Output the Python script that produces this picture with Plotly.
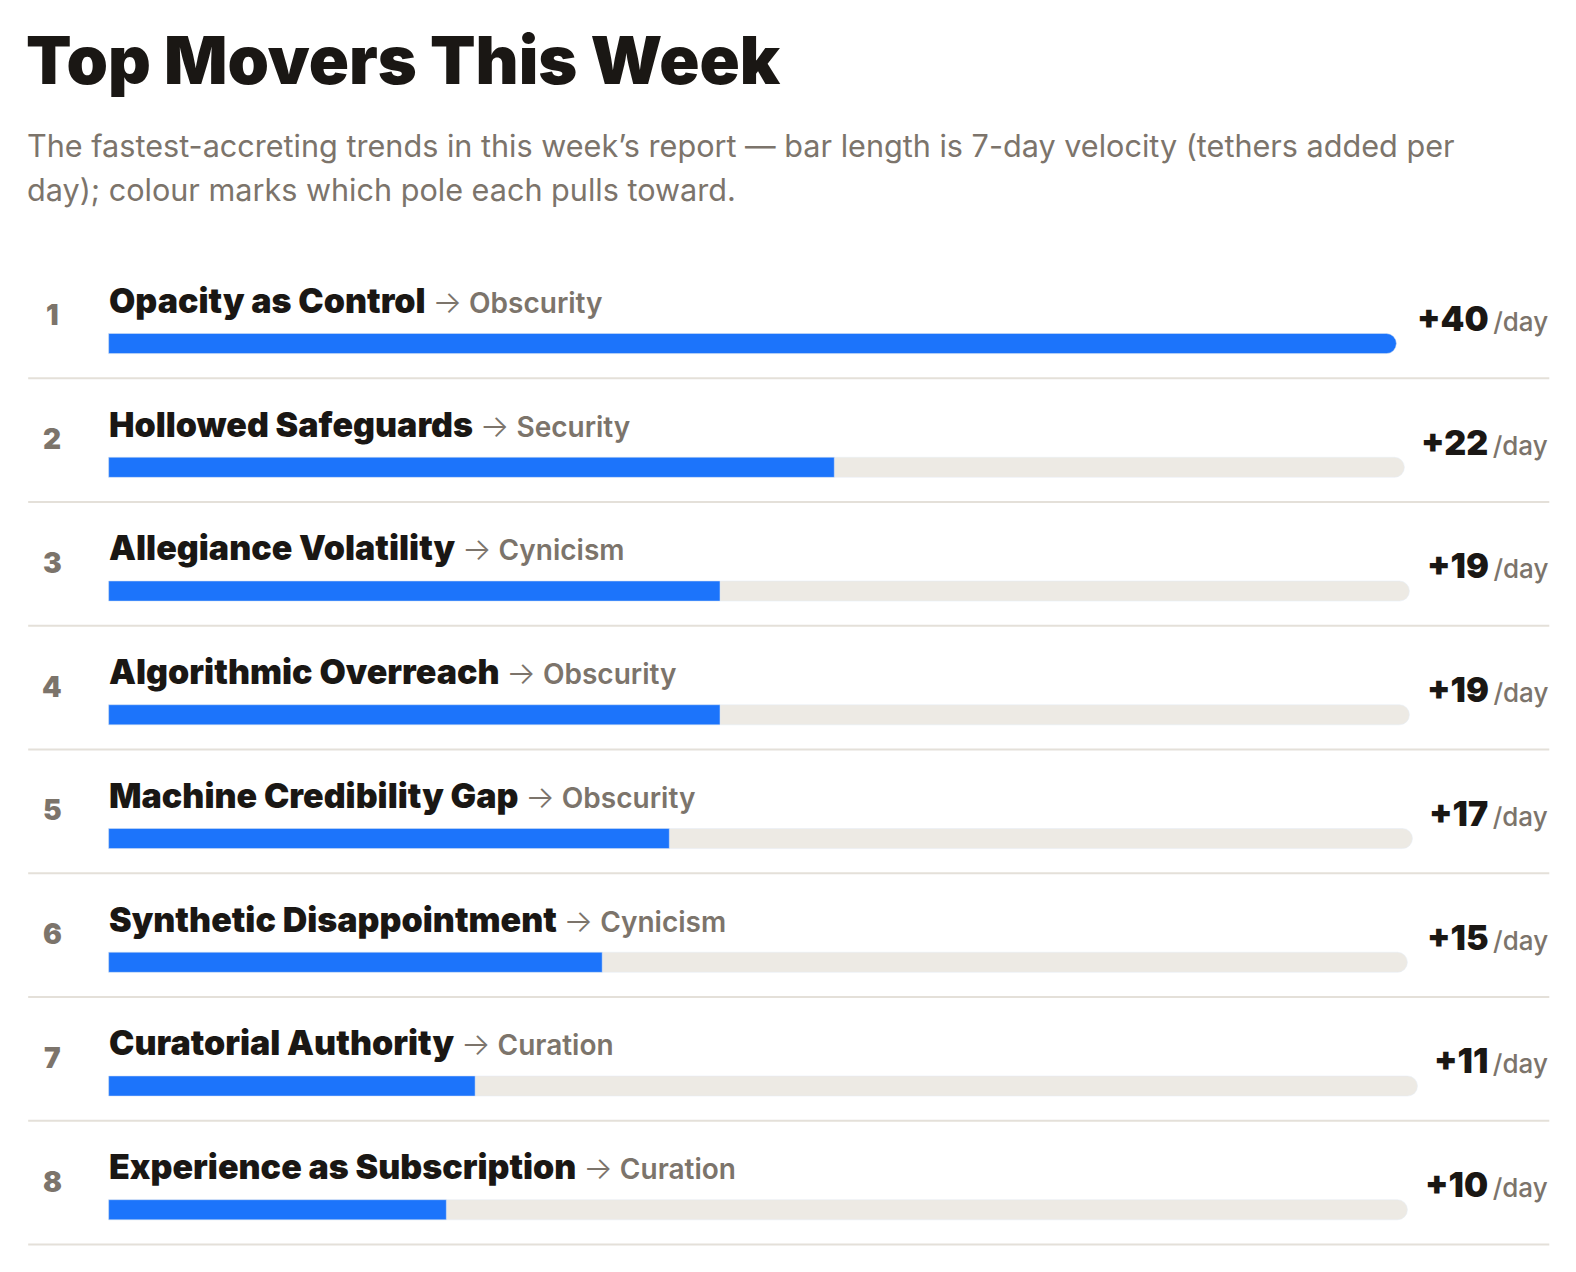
import plotly.graph_objects as go

# data (velocity = tethers added per day, 7-day window)
ranks = [1, 2, 3, 4, 5, 6, 7, 8]
trends = ["Opacity as Control", "Hollowed Safeguards", "Allegiance Volatility",
          "Algorithmic Overreach", "Machine Credibility Gap", "Synthetic Disappointment",
          "Curatorial Authority", "Experience as Subscription"]
poles = ["Obscurity", "Security", "Cynicism", "Obscurity", "Obscurity", "Cynicism",
         "Curation", "Curation"]
velocity = [40.0, 22.4, 18.8, 18.8, 17.2, 15.2, 11.2, 10.4]

# the page gets an 8px body margin and comes out ~0.6% smaller in the photo
S, OFF = 0.994, 8
W, H = 1560, 1256
BLUE = "#1c74fb"
TRACK = "#edeae4"
RULE = "#e4e0d9"
INK = "#1a1714"
GREY = "#7c746b"
FONT = "Inter"


def fx(v):
    return v / S - OFF


# rough glyph widths of the value label, the track shrinks to make room for it
GLYPH_W = {"+": 21, "0": 23, "1": 13, "2": 19.5, "4": 24, "5": 23, "7": 18, "9": 21}
labels = [f"+{round(v)}" for v in velocity]
track_end = [1456 - sum(GLYPH_W[c] for c in lab) for lab in labels]
track_len = [e - 108 for e in track_end]
ratio = [t / track_len[0] for t in track_len]

vmax = max(velocity)
ppu = (fx(track_end[0]) - fx(108)) / vmax
x_range = [-fx(108) / ppu, (W - fx(108)) / ppu]
row_px = 123 / S
first_bar = fx(341.5)
y_range = [1 + (H - first_bar) / row_px, 1 - first_bar / row_px]
bar_w = 20 / 123

fig = go.Figure()
fig.add_trace(go.Bar(
    y=ranks, x=[vmax * r for r in ratio], orientation="h", width=bar_w,
    marker=dict(color=TRACK, cornerradius=10), hoverinfo="skip", showlegend=False))
fig.add_trace(go.Bar(
    y=ranks, x=[v * r for v, r in zip(velocity, ratio)], orientation="h", width=bar_w,
    marker=dict(color=BLUE, cornerradius=10), hoverinfo="skip", showlegend=False))

ann = []
for r, t, p, lab in zip(ranks, trends, poles, labels):
    ann.append(dict(
        x=fx(106) / W, y=r - 43 / 123, xref="paper", yref="y", xanchor="left", yanchor="middle",
        text=(f"{t} <span style=\"color:{GREY};font-size:31px;font-weight:300\">→</span>"
              f"<span style=\"color:{GREY};font-size:28px;font-weight:600\"> {p}</span>"),
        showarrow=False, font=dict(family=FONT, size=34, color=INK, weight=900)))
    ann.append(dict(
        x=fx(52) / W, y=r - 28 / 123, xref="paper", yref="y", xanchor="center", yanchor="middle",
        text=str(r), showarrow=False, font=dict(family=FONT, size=28, color=GREY, weight=900)))
    ann.append(dict(
        x=fx(1541) / W, y=r - 25 / 123, xref="paper", yref="y", xanchor="right", yanchor="middle",
        text=f"{lab}<span style=\"color:{GREY};font-size:26px;font-weight:500\">\u2009/day</span>",
        showarrow=False, font=dict(family=FONT, size=34, color=INK, weight=900)))

shapes = [dict(type="line", xref="paper", yref="y", x0=fx(28) / W, x1=fx(1540) / W,
               y0=r + 34.5 / 123, y1=r + 34.5 / 123,
               line=dict(color=RULE, width=2)) for r in ranks]

ann.append(dict(x=fx(24) / W, y=1 - fx(60) / H, xref="paper", yref="paper",
                xanchor="left", yanchor="middle",
                text="Top Movers This Week", showarrow=False,
                font=dict(family=FONT, size=66.4, color=INK, weight=900)))
ann.append(dict(x=fx(25) / W, y=1 - fx(145) / H, xref="paper", yref="paper",
                xanchor="left", yanchor="middle",
                text="The fastest-accreting trends in this week’s report — bar length is 7-day velocity (tethers added per",
                showarrow=False, font=dict(family=FONT, size=30.6, color=GREY)))
ann.append(dict(x=fx(25) / W, y=1 - fx(188) / H, xref="paper", yref="paper",
                xanchor="left", yanchor="middle",
                text="day); colour marks which pole each pulls toward.",
                showarrow=False, font=dict(family=FONT, size=30.6, color=GREY)))

fig.update_layout(
    width=W, height=H, margin=dict(l=0, r=0, t=0, b=0),
    paper_bgcolor="white", plot_bgcolor="white",
    barmode="overlay", hovermode=False,
    xaxis=dict(range=x_range, visible=False, fixedrange=True),
    yaxis=dict(range=y_range, visible=False, fixedrange=True),
    annotations=ann, shapes=shapes,
)
fig.write_html("out.html", config={"displayModeBar": False})
